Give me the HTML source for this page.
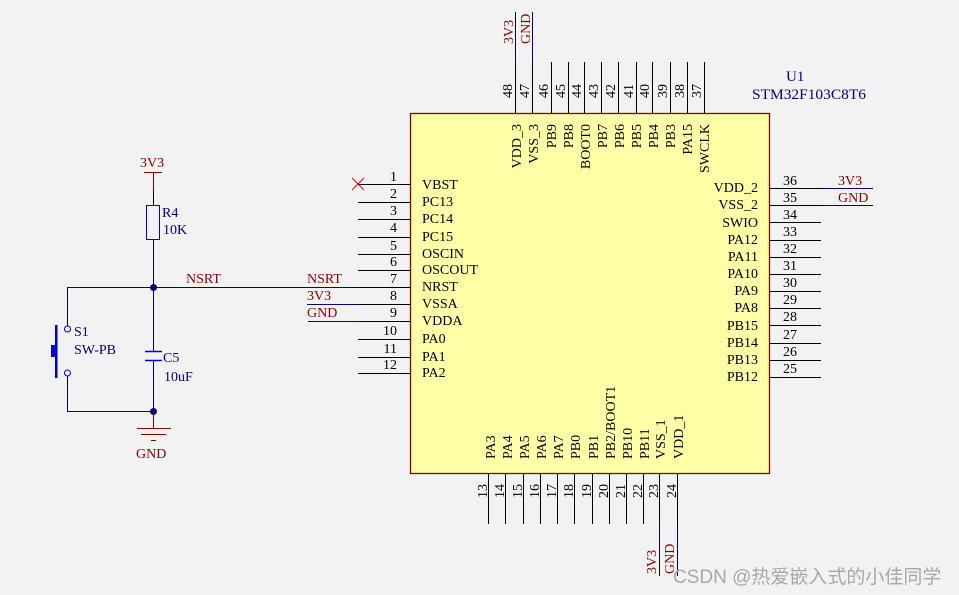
<!DOCTYPE html>
<html><head><meta charset="utf-8"><style>
html,body{margin:0;padding:0;background:#f2f2f2;}
svg{display:block;}
text{font-family:"Liberation Serif",serif;font-size:14px;}
.k{fill:#000;}
.r{fill:#8b0000;}
.b{fill:#000080;}
</style></head><body>
<svg width="959" height="595" viewBox="0 0 959 595" xmlns="http://www.w3.org/2000/svg">
<rect x="0" y="0" width="959" height="595" fill="#f2f2f2"/>
<rect x="410.5" y="113.5" width="359" height="360" fill="#ffffa8" stroke="#8b0000" stroke-width="1.3"/>
<g stroke="#000" stroke-width="1">
<line x1="515.5" y1="62" x2="515.5" y2="113"/><line x1="532.5" y1="62" x2="532.5" y2="113"/>
<line x1="551.5" y1="62" x2="551.5" y2="113"/><line x1="568.5" y1="62" x2="568.5" y2="113"/>
<line x1="584.5" y1="62" x2="584.5" y2="113"/><line x1="601.5" y1="62" x2="601.5" y2="113"/>
<line x1="618.5" y1="62" x2="618.5" y2="113"/><line x1="636.5" y1="62" x2="636.5" y2="113"/>
<line x1="652.5" y1="62" x2="652.5" y2="113"/><line x1="670.5" y1="62" x2="670.5" y2="113"/>
<line x1="687.5" y1="62" x2="687.5" y2="113"/><line x1="704.5" y1="62" x2="704.5" y2="113"/>
<line x1="488.5" y1="474" x2="488.5" y2="524"/><line x1="505.5" y1="474" x2="505.5" y2="524"/>
<line x1="523.5" y1="474" x2="523.5" y2="524"/><line x1="540.5" y1="474" x2="540.5" y2="524"/>
<line x1="557.5" y1="474" x2="557.5" y2="524"/><line x1="574.5" y1="474" x2="574.5" y2="524"/>
<line x1="592.5" y1="474" x2="592.5" y2="524"/><line x1="609.5" y1="474" x2="609.5" y2="524"/>
<line x1="626.5" y1="474" x2="626.5" y2="524"/><line x1="643.5" y1="474" x2="643.5" y2="524"/>
<line x1="659.5" y1="474" x2="659.5" y2="524"/><line x1="677.5" y1="474" x2="677.5" y2="524"/>
<line x1="358" y1="184.5" x2="410" y2="184.5"/><line x1="358" y1="202.5" x2="410" y2="202.5"/>
<line x1="358" y1="219.5" x2="410" y2="219.5"/><line x1="358" y1="237.5" x2="410" y2="237.5"/>
<line x1="358" y1="254.5" x2="410" y2="254.5"/><line x1="358" y1="270.5" x2="410" y2="270.5"/>
<line x1="358" y1="287.5" x2="410" y2="287.5"/><line x1="358" y1="304.5" x2="410" y2="304.5"/>
<line x1="358" y1="321.5" x2="410" y2="321.5"/><line x1="358" y1="339.5" x2="410" y2="339.5"/>
<line x1="358" y1="357.5" x2="410" y2="357.5"/><line x1="358" y1="373.5" x2="410" y2="373.5"/>
<line x1="770" y1="188.5" x2="821" y2="188.5"/><line x1="770" y1="205.5" x2="821" y2="205.5"/>
<line x1="770" y1="222.5" x2="821" y2="222.5"/><line x1="770" y1="240.5" x2="821" y2="240.5"/>
<line x1="770" y1="257.5" x2="821" y2="257.5"/><line x1="770" y1="274.5" x2="821" y2="274.5"/>
<line x1="770" y1="291.5" x2="821" y2="291.5"/><line x1="770" y1="308.5" x2="821" y2="308.5"/>
<line x1="770" y1="325.5" x2="821" y2="325.5"/><line x1="770" y1="343.5" x2="821" y2="343.5"/>
<line x1="770" y1="360.5" x2="821" y2="360.5"/><line x1="770" y1="377.5" x2="821" y2="377.5"/>
</g>
<g stroke="#000080" stroke-width="1">
<line x1="515.5" y1="12" x2="515.5" y2="62"/><line x1="532.5" y1="12" x2="532.5" y2="62"/>
<line x1="659.5" y1="524" x2="659.5" y2="576"/><line x1="677.5" y1="524" x2="677.5" y2="576"/>
<line x1="821" y1="188.5" x2="873" y2="188.5"/><line x1="821" y1="205.5" x2="873" y2="205.5"/>
<line x1="307" y1="304.5" x2="358" y2="304.5"/><line x1="308" y1="321.5" x2="358" y2="321.5"/>
<line x1="67.5" y1="287.5" x2="358" y2="287.5"/>
<line x1="153.5" y1="240" x2="153.5" y2="351"/><line x1="153.5" y1="360" x2="153.5" y2="411"/>
<line x1="67.5" y1="287" x2="67.5" y2="326"/><line x1="67.5" y1="376" x2="67.5" y2="411.5"/>
<line x1="67" y1="411.5" x2="153" y2="411.5"/>
</g>
<g stroke="#e00000" stroke-width="1"><line x1="352" y1="178" x2="364" y2="190"/><line x1="364" y1="178" x2="352" y2="190"/></g>
<g stroke="#8b0000" stroke-width="1"><line x1="144" y1="172.5" x2="162" y2="172.5"/><line x1="153.5" y1="172" x2="153.5" y2="190"/></g>
<line x1="153.5" y1="190" x2="153.5" y2="205" stroke="#000" />
<rect x="146.5" y="205.5" width="13" height="34" fill="none" stroke="#0000cc" stroke-width="1"/>
<g stroke="#0000cc" stroke-width="1.5"><line x1="145" y1="351.5" x2="162" y2="351.5"/><line x1="145" y1="360.5" x2="162" y2="360.5"/></g>
<circle cx="153.5" cy="287.5" r="3.5" fill="#000080"/><circle cx="153.5" cy="411.5" r="3.5" fill="#000080"/>
<g stroke="#8b0000" stroke-width="1"><line x1="153.5" y1="411" x2="153.5" y2="428"/>
<line x1="137" y1="428.5" x2="171" y2="428.5"/><line x1="141" y1="434.5" x2="166" y2="434.5"/><line x1="151" y1="440.5" x2="156" y2="440.5"/></g>
<g stroke="#0000cc" fill="none" stroke-width="1"><circle cx="67.5" cy="329" r="3"/><circle cx="67.5" cy="373" r="3"/></g>
<rect x="55" y="325" width="2.5" height="53" fill="#0000cc"/>
<rect x="51" y="345" width="5" height="12" fill="#0000cc"/>
<text x="140" y="167" class="r">3V3</text>
<text x="162" y="217" class="b">R4</text>
<text x="163" y="234" class="b">10K</text>
<text x="186" y="283" class="r">NSRT</text>
<text x="163" y="362" class="b">C5</text>
<text x="164" y="381" class="b">10uF</text>
<text x="74" y="336" class="b">S1</text>
<text x="74" y="354" class="b">SW-PB</text>
<text x="136" y="458" class="r">GND</text>
<text x="307" y="283" class="r">NSRT</text>
<text x="307" y="300" class="r">3V3</text>
<text x="307" y="317" class="r">GND</text>
<g class="k" text-anchor="end">
<text x="397" y="181">1</text><text x="397" y="198">2</text><text x="397" y="215">3</text>
<text x="397" y="232">4</text><text x="397" y="250">5</text><text x="397" y="266">6</text>
<text x="397" y="283">7</text><text x="397" y="300">8</text><text x="397" y="317">9</text>
<text x="397" y="335">10</text><text x="397" y="353">11</text><text x="397" y="369">12</text>
</g>
<g class="k">
<text x="422" y="189">VBST</text><text x="422" y="206">PC13</text><text x="422" y="223">PC14</text>
<text x="422" y="241">PC15</text><text x="422" y="258">OSCIN</text><text x="422" y="274">OSCOUT</text>
<text x="422" y="291">NRST</text><text x="422" y="308">VSSA</text><text x="422" y="325">VDDA</text>
<text x="422" y="343">PA0</text><text x="422" y="361">PA1</text><text x="422" y="377">PA2</text>
</g>
<g class="k" text-anchor="end">
<text x="758" y="192">VDD_2</text><text x="758" y="209">VSS_2</text><text x="758" y="227">SWIO</text>
<text x="758" y="244">PA12</text><text x="758" y="261">PA11</text><text x="758" y="278">PA10</text>
<text x="758" y="295">PA9</text><text x="758" y="312">PA8</text><text x="758" y="330">PB15</text>
<text x="758" y="347">PB14</text><text x="758" y="364">PB13</text><text x="758" y="381">PB12</text>
</g>
<g class="k">
<text x="783" y="185">36</text><text x="783" y="202">35</text><text x="783" y="219">34</text>
<text x="783" y="236">33</text><text x="783" y="253">32</text><text x="783" y="270">31</text>
<text x="783" y="287">30</text><text x="783" y="304">29</text><text x="783" y="321">28</text>
<text x="783" y="339">27</text><text x="783" y="356">26</text><text x="783" y="373">25</text>
</g>
<text x="838" y="185" class="r">3V3</text><text x="838" y="202" class="r">GND</text>
<text x="786" y="81" class="b" style="font-size:15px">U1</text>
<text x="752" y="99" class="b" style="font-size:15px" textLength="114" lengthAdjust="spacingAndGlyphs">STM32F103C8T6</text>
<g class="k">
<text transform="translate(512,98) rotate(-90)">48</text><text transform="translate(529,98) rotate(-90)">47</text>
<text transform="translate(548,98) rotate(-90)">46</text><text transform="translate(565,98) rotate(-90)">45</text>
<text transform="translate(581,98) rotate(-90)">44</text><text transform="translate(598,98) rotate(-90)">43</text>
<text transform="translate(615,98) rotate(-90)">42</text><text transform="translate(633,98) rotate(-90)">41</text>
<text transform="translate(649,98) rotate(-90)">40</text><text transform="translate(667,98) rotate(-90)">39</text>
<text transform="translate(684,98) rotate(-90)">38</text><text transform="translate(701,98) rotate(-90)">37</text>
</g>
<g class="k" text-anchor="end">
<text transform="translate(521,124) rotate(-90)">VDD_3</text><text transform="translate(538,124) rotate(-90)">VSS_3</text>
<text transform="translate(556,124) rotate(-90)">PB9</text><text transform="translate(573,124) rotate(-90)">PB8</text>
<text transform="translate(590,124) rotate(-90)">BOOT0</text><text transform="translate(607,124) rotate(-90)">PB7</text>
<text transform="translate(624,124) rotate(-90)">PB6</text><text transform="translate(641,124) rotate(-90)">PB5</text>
<text transform="translate(658,124) rotate(-90)">PB4</text><text transform="translate(675,124) rotate(-90)">PB3</text>
<text transform="translate(692,124) rotate(-90)">PA15</text><text transform="translate(709,124) rotate(-90)">SWCLK</text>
</g>
<text transform="translate(513,44) rotate(-90)" class="r">3V3</text>
<text transform="translate(530,44) rotate(-90)" class="r">GND</text>
<g class="k">
<text transform="translate(495,459) rotate(-90)">PA3</text><text transform="translate(512,459) rotate(-90)">PA4</text>
<text transform="translate(529,459) rotate(-90)">PA5</text><text transform="translate(546,459) rotate(-90)">PA6</text>
<text transform="translate(563,459) rotate(-90)">PA7</text><text transform="translate(580,459) rotate(-90)">PB0</text>
<text transform="translate(598,459) rotate(-90)">PB1</text><text transform="translate(615,459) rotate(-90)">PB2/BOOT1</text>
<text transform="translate(632,459) rotate(-90)">PB10</text><text transform="translate(649,459) rotate(-90)">PB11</text>
<text transform="translate(665,459) rotate(-90)">VSS_1</text><text transform="translate(683,459) rotate(-90)">VDD_1</text>
</g>
<g class="k">
<text transform="translate(487,498) rotate(-90)">13</text><text transform="translate(504,498) rotate(-90)">14</text>
<text transform="translate(522,498) rotate(-90)">15</text><text transform="translate(539,498) rotate(-90)">16</text>
<text transform="translate(556,498) rotate(-90)">17</text><text transform="translate(573,498) rotate(-90)">18</text>
<text transform="translate(591,498) rotate(-90)">19</text><text transform="translate(608,498) rotate(-90)">20</text>
<text transform="translate(625,498) rotate(-90)">21</text><text transform="translate(642,498) rotate(-90)">22</text>
<text transform="translate(658,498) rotate(-90)">23</text><text transform="translate(676,498) rotate(-90)">24</text>
</g>
<text transform="translate(656,574) rotate(-90)" class="r">3V3</text>
<text transform="translate(674,574) rotate(-90)" class="r">GND</text>
<text x="673" y="583" style="font-family:'Liberation Sans','Noto Sans CJK SC',sans-serif;font-size:19px;fill:#a8a8a8;">CSDN @热爱嵌入式的小佳同学</text>
</svg>
</body></html>
